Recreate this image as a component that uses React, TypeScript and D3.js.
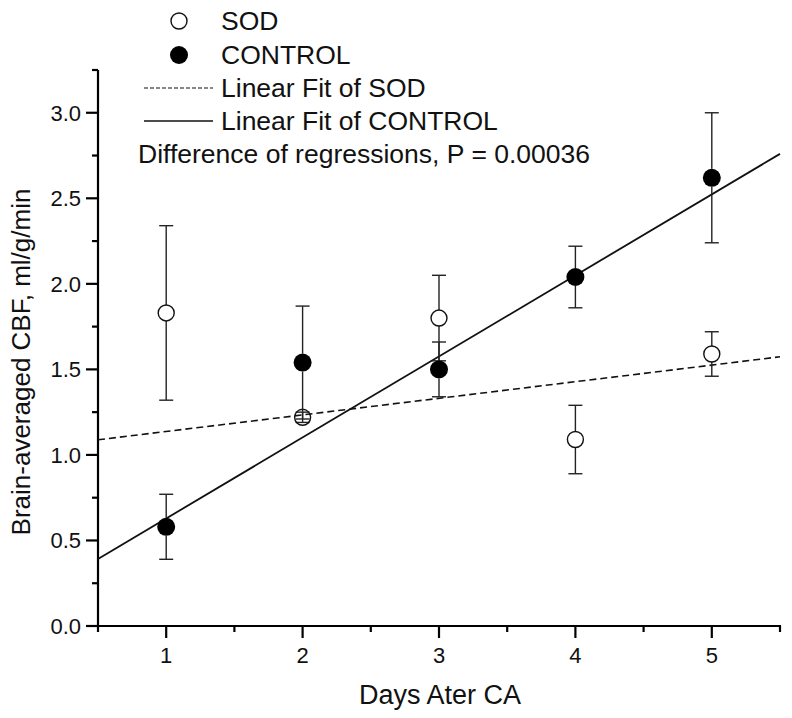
import React from "react";
import * as d3 from "d3";

const days = [1, 2, 3, 4, 5];
const sodMean = [1.83, 1.22, 1.8, 1.09, 1.59];
const sodErr = [0.51, 0.03, 0.25, 0.2, 0.13];
const ctrlMean = [0.58, 1.54, 1.5, 2.04, 2.62];
const ctrlErr = [0.19, 0.33, 0.16, 0.18, 0.38];
// [intercept, slope]
const sodFit = [1.04, 0.097];
const ctrlFit = [0.155, 0.4736];
const xTicks = [1, 2, 3, 4, 5];
const xMinorTicks = [0.5, 1.5, 2.5, 3.5, 4.5, 5.5];
const yTicks = [0, 0.5, 1, 1.5, 2, 2.5, 3];
const yMinorTicks = [0.25, 0.75, 1.25, 1.75, 2.25, 2.75, 3.25];
const legendLabels = ["SOD", "CONTROL", "Linear Fit of SOD", "Linear Fit of CONTROL"];
const note = "Difference of regressions, P = 0.00036";
const xTitle = "Days Ater CA";
const yTitle = "Brain-averaged CBF, ml/g/min";

const W = 792;
const H = 718;
const FONT = "'Liberation Sans', Arial, Helvetica, sans-serif";

export default function App() {
  const x = d3.scaleLinear().domain([0.5, 5.5]).range([98, 780]);
  const y = d3.scaleLinear().domain([0, 3.25]).range([626, 70]);
  const R_OPEN = 8;
  const R_FILL = 9;
  const CAP = 7;

  const fitLine = (fit: number[]) =>
    d3
      .line<number>()
      .x((d) => x(d))
      .y((d) => y(fit[0] + fit[1] * d))([0.5, 5.5]) as string;

  const errorBars = (means: number[], errs: number[], r: number, key: string) =>
    days.map((d, i) => {
      const cx = x(d);
      const cy = y(means[i]);
      const top = y(means[i] + errs[i]);
      const bot = y(means[i] - errs[i]);
      const segs: JSX.Element[] = [];
      if (cy - top > r) {
        segs.push(<line key="a" x1={cx} x2={cx} y1={top} y2={cy - r} />);
        segs.push(<line key="b" x1={cx} x2={cx} y1={cy + r} y2={bot} />);
      } else {
        segs.push(<line key="a" x1={cx} x2={cx} y1={top} y2={bot} />);
      }
      return (
        <g key={key + i} stroke="#222" strokeWidth={1.4}>
          {segs}
          <line x1={cx - CAP} x2={cx + CAP} y1={top} y2={top} />
          <line x1={cx - CAP} x2={cx + CAP} y1={bot} y2={bot} />
        </g>
      );
    });

  return (
    <svg
      width={W}
      height={H}
      style={{ position: "absolute", left: 0, top: 0, background: "#fff" }}
      fontFamily={FONT}
    >
      <rect width={W} height={H} fill="#fff" />
      {/* axes */}
      <g stroke="#000" strokeWidth={2.2}>
        <line x1={x(0.5)} x2={x(0.5)} y1={y(3.25)} y2={y(0) + 1} />
        <line x1={x(0.5) - 1} x2={x(5.5) + 1} y1={y(0)} y2={y(0)} />
        {yTicks.map((t) => (
          <line key={"yt" + t} x1={x(0.5) - 12} x2={x(0.5)} y1={y(t)} y2={y(t)} />
        ))}
        {yMinorTicks.map((t) => (
          <line key={"ym" + t} x1={x(0.5) - 6} x2={x(0.5)} y1={y(t)} y2={y(t)} />
        ))}
        {xTicks.map((t) => (
          <line key={"xt" + t} x1={x(t)} x2={x(t)} y1={y(0)} y2={y(0) + 12} />
        ))}
        {xMinorTicks.map((t) => (
          <line key={"xm" + t} x1={x(t)} x2={x(t)} y1={y(0)} y2={y(0) + 6} />
        ))}
      </g>
      <g fontSize={22} fill="#111">
        {yTicks.map((t) => (
          <text key={"yl" + t} x={x(0.5) - 17} y={y(t) + 8} textAnchor="end">
            {d3.format(".1f")(t)}
          </text>
        ))}
        {xTicks.map((t) => (
          <text key={"xl" + t} x={x(t)} y={y(0) + 37} textAnchor="middle">
            {t}
          </text>
        ))}
      </g>
      <text x={440} y={704} fontSize={27} textAnchor="middle" fill="#111">
        {xTitle}
      </text>
      <text
        transform={`translate(30,362) rotate(-90)`}
        fontSize={26}
        textAnchor="middle"
        fill="#111"
      >
        {yTitle}
      </text>

      {/* fit lines */}
      <path d={fitLine(sodFit)} fill="none" stroke="#111" strokeWidth={1.6} strokeDasharray="7,4" />
      <path d={fitLine(ctrlFit)} fill="none" stroke="#111" strokeWidth={1.8} />

      {/* SOD */}
      {errorBars(sodMean, sodErr, R_OPEN, "se")}
      {days.map((d, i) => (
        <circle key={"sc" + i} cx={x(d)} cy={y(sodMean[i])} r={R_OPEN} fill="none" stroke="#111" strokeWidth={1.4} />
      ))}
      {/* CONTROL */}
      {errorBars(ctrlMean, ctrlErr, R_FILL, "ce")}
      {days.map((d, i) => (
        <circle key={"cc" + i} cx={x(d)} cy={y(ctrlMean[i])} r={R_FILL} fill="#000" />
      ))}

      {/* legend */}
      <g fill="#111" fontSize={26.5}>
        <circle cx={179} cy={21} r={8} fill="none" stroke="#111" strokeWidth={1.4} />
        <text x={221} y={30}>{legendLabels[0]}</text>
        <circle cx={179} cy={55} r={9} fill="#000" />
        <text x={221} y={64}>{legendLabels[1]}</text>
        <line x1={144} x2={213} y1={88} y2={88} stroke="#111" strokeWidth={1.2} strokeDasharray="4,2" />
        <text x={221} y={97}>{legendLabels[2]}</text>
        <line x1={144} x2={213} y1={121} y2={121} stroke="#111" strokeWidth={1.4} />
        <text x={221} y={130}>{legendLabels[3]}</text>
        <text x={138} y={163}>{note}</text>
      </g>
    </svg>
  );
}
